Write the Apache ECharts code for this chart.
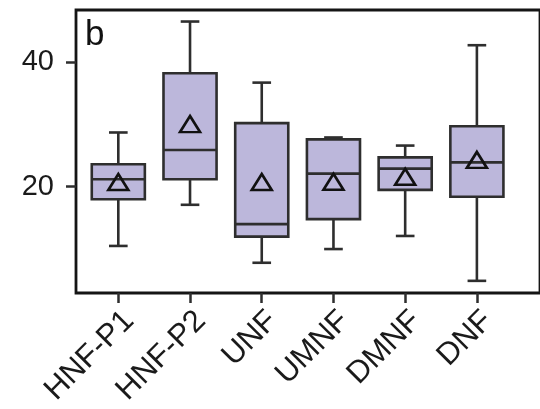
<!DOCTYPE html>
<html><head><meta charset="utf-8">
<script src="https://cdn.jsdelivr.net/npm/echarts@6/dist/echarts.min.js"></script>
<style>html,body{margin:0;padding:0;background:#fff}#c{width:540px;height:409px}</style>
</head><body><div id="c"></div>
<script>
const categories = ['HNF-P1', 'HNF-P2', 'UNF', 'UMNF', 'DMNF', 'DNF'];
const whiskerLow = [10.5, 17.1, 7.8, 10.0, 12.1, 4.9];
const q1 = [18.0, 21.2, 12.0, 14.8, 19.5, 18.4];
const median = [21.2, 25.9, 14.0, 22.1, 22.9, 23.9];
const q3 = [23.6, 38.2, 30.2, 27.6, 24.7, 29.7];
const whiskerHigh = [28.7, 46.5, 36.7, 27.9, 26.6, 42.7];
const means = [20.35, 29.65, 20.35, 20.4, 21.2, 23.9];
const yTicks = [20, 40];
const panelLabel = 'b';

const xPos = categories.map((_, i) => i + 1);
const boxData = categories.map((c, i) => [i + 1, whiskerLow[i], q1[i], median[i], q3[i], whiskerHigh[i]]);
const meanData = categories.map((c, i) => [i + 1, means[i]]);

const FILL = '#bcb7db', LINE = '#2e2e2e';
function renderItem(params, api) {
  const x = api.value(0);
  const lo = api.coord([x, api.value(1)]);
  const b1 = api.coord([x, api.value(2)]);
  const md = api.coord([x, api.value(3)]);
  const b3 = api.coord([x, api.value(4)]);
  const hi = api.coord([x, api.value(5)]);
  const halfW = api.size([0.74, 0])[0] / 2;
  const capW = api.size([0.26, 0])[0] / 2;
  const st = { stroke: LINE, lineWidth: 2.6, fill: null };
  return {
    type: 'group',
    children: [
      { type: 'line', shape: { x1: lo[0], y1: lo[1], x2: b1[0], y2: b1[1] }, style: st },
      { type: 'line', shape: { x1: b3[0], y1: b3[1], x2: hi[0], y2: hi[1] }, style: st },
      { type: 'line', shape: { x1: lo[0] - capW, y1: lo[1], x2: lo[0] + capW, y2: lo[1] }, style: st },
      { type: 'line', shape: { x1: hi[0] - capW, y1: hi[1], x2: hi[0] + capW, y2: hi[1] }, style: st },
      { type: 'rect', shape: { x: b3[0] - halfW, y: b3[1], width: 2 * halfW, height: b1[1] - b3[1] },
        style: { fill: FILL, stroke: LINE, lineWidth: 2.6 } },
      { type: 'line', shape: { x1: md[0] - halfW, y1: md[1], x2: md[0] + halfW, y2: md[1] }, style: st }
    ]
  };
}

const chart = echarts.init(document.getElementById('c'), null, { renderer: 'canvas' });
chart.setOption({
  animation: false,
  backgroundColor: '#ffffff',
  grid: { left: 76, right: -10, top: 10, bottom: 116, show: true, borderColor: '#151515', borderWidth: 2.8, backgroundColor: '#ffffff' },
  xAxis: {
    type: 'value', min: 0.41, max: 6.88,
    axisLine: { show: false }, splitLine: { show: false },
    axisTick: { show: true, customValues: xPos, length: 10, lineStyle: { color: LINE, width: 2.5 } },
    axisLabel: {
      customValues: xPos,
      formatter: v => categories[Math.round(v) - 1] || '',
      rotate: 45, align: 'right', verticalAlign: 'top',
      fontSize: 31, color: '#1a1a1a', fontFamily: 'Liberation Sans, Arial, sans-serif', margin: 12
    }
  },
  yAxis: {
    type: 'value', min: 2.95, max: 48.35,
    axisLine: { show: false }, splitLine: { show: false },
    axisTick: { show: true, customValues: yTicks, length: 10, lineStyle: { color: LINE, width: 2.5 } },
    axisLabel: { customValues: yTicks, fontSize: 29, color: '#1a1a1a', fontFamily: 'Liberation Sans, Arial, sans-serif', margin: 22, padding: [6, 0, 0, 0] }
  },
  series: [
    { type: 'custom', renderItem: renderItem, data: boxData, encode: { x: 0, y: [1, 2, 3, 4, 5] }, z: 2 },
    { type: 'scatter', data: meanData, symbol: 'triangle', symbolSize: [20, 16], symbolOffset: [0, -2.5],
      itemStyle: { color: 'rgba(0,0,0,0)', borderColor: '#111111', borderWidth: 2.6, opacity: 1 }, z: 3 }
  ],
  graphic: [
    { type: 'text', left: 85, top: 18, z: 10,
      style: { text: panelLabel, fontSize: 35, fontFamily: 'Liberation Sans, Arial, sans-serif', fill: '#111111' } }
  ]
});
</script>
</body></html>
